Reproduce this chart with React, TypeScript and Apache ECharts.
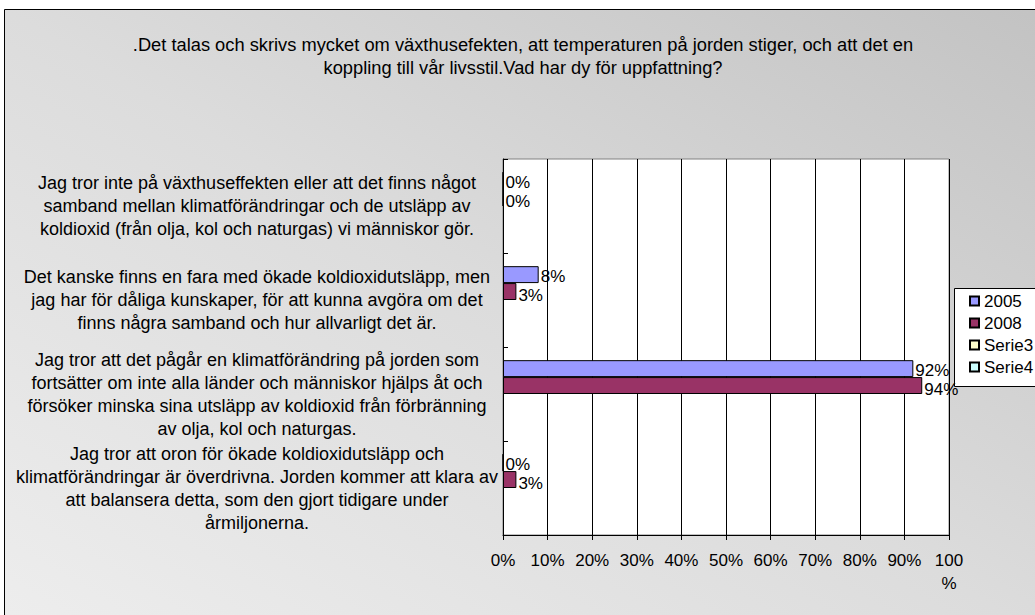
import React, { useEffect, useRef } from "react";
import * as echarts from "echarts";

const titleLines = [
  ".Det talas och skrivs mycket om växthusefekten, att temperaturen på jorden stiger, och att det en",
  "koppling till vår livsstil.Vad har dy för uppfattning?",
];

const categories = [
  "Jag tror inte på växthuseffekten eller att det finns något\nsamband mellan klimatförändringar och de utsläpp av\nkoldioxid (från olja, kol och naturgas) vi människor gör.",
  "Det kanske finns en fara med ökade koldioxidutsläpp, men\njag har för dåliga kunskaper, för att kunna avgöra om det\nfinns några samband och hur allvarligt det är.",
  "Jag tror att det pågår en klimatförändring på jorden som\nfortsätter om inte alla länder och människor hjälps åt och\nförsöker minska sina utsläpp av koldioxid från förbränning\nav olja, kol och naturgas.",
  "Jag tror att oron för ökade koldioxidutsläpp och\nklimatförändringar är överdrivna. Jorden kommer att klara av\natt balansera detta, som den gjort tidigare under\nårmiljonerna.",
];

const seriesNames = ["2005", "2008", "Serie3", "Serie4"];
const values2005 = [0, 8, 92, 0];
const values2008 = [0, 3, 94, 3];
const valuesSerie3 = [null, null, null, null];
const valuesSerie4 = [null, null, null, null];
const seriesColors = ["#9999FF", "#993366", "#FFFFCC", "#CCFFFF"];

const FONT = "'Liberation Sans', Arial, sans-serif";

export default function App() {
  const ref = useRef<HTMLDivElement>(null);
  useEffect(() => {
    if (!ref.current) return;
    const chart = echarts.init(ref.current, undefined, { renderer: "svg" });
    const allValues = [values2005, values2008, valuesSerie3, valuesSerie4];
    const series = seriesNames.map((name, i) => ({
      name,
      type: "bar",
      data: allValues[i],
      barGap: "0%",
      barCategoryGap: "28%",
      itemStyle: { color: seriesColors[i], borderColor: "#000", borderWidth: 1 },
      label: {
        show: i < 2,
        position: "right",
        distance: 2,
        offset: [0, i === 0 ? 2 : 4],
        formatter: "{c}%",
        color: "#000",
        fontSize: 17,
        fontFamily: FONT,
      },
    }));
    chart.setOption({
      animation: false,
      textStyle: { fontFamily: FONT },
      graphic: [
        {
          type: "rect",
          z: -10,
          silent: true,
          shape: { x: 4.5, y: 9.5, width: 1060, height: 640 },
          style: {
            fill: new echarts.graphic.LinearGradient(1, 0, 0, 1, [
              { offset: 0, color: "#c2c2c2" },
              { offset: 0.5, color: "#dcdcdc" },
              { offset: 1, color: "#eeeeee" },
            ]),
            stroke: "#000",
            lineWidth: 1,
          },
        },
        {
          type: "rect",
          z: -5,
          silent: true,
          shape: { x: 954.5, y: 288.5, width: 200, height: 98 },
          style: { fill: "#fff", stroke: "#000", lineWidth: 1 },
        },
        {
          type: "text",
          x: 523,
          y: 55.5,
          z: 10,
          style: {
            text: titleLines.join("\n"),
            textAlign: "center",
            textVerticalAlign: "middle",
            fontSize: 18.3,
            fontFamily: FONT,
            lineHeight: 23,
            fill: "#000",
          },
        },
      ],
      legend: {
        orient: "vertical",
        left: 954,
        top: 288,
        data: seriesNames,
        padding: [3, 5, 10, 15],
        itemGap: 2,
        itemWidth: 9,
        itemHeight: 9,
        icon: "rect",
        textStyle: { fontSize: 17, lineHeight: 20, color: "#000", fontFamily: FONT },
      },
      grid: {
        left: 503,
        top: 159,
        width: 446,
        height: 376,
        show: true,
        backgroundColor: "#fff",
        borderColor: "#808080",
        borderWidth: 1,
        containLabel: false,
      },
      xAxis: {
        type: "value",
        min: 0,
        max: 100,
        interval: 10,
        axisLine: { show: true, lineStyle: { color: "#000" } },
        axisTick: { show: true, inside: false, length: 5, lineStyle: { color: "#000" } },
        splitLine: { show: true, lineStyle: { color: "#000", width: 1 } },
        axisLabel: {
          margin: 14,
          fontSize: 17,
          lineHeight: 23,
          color: "#000",
          fontFamily: FONT,
          formatter: (v: number) => (v === 100 ? "100\n%" : v + "%"),
        },
      },
      yAxis: {
        type: "category",
        inverse: true,
        data: categories,
        axisLine: { show: true, lineStyle: { color: "#000" } },
        axisTick: { show: true, inside: true, length: 5, lineStyle: { color: "#000" } },
        splitLine: { show: false },
        axisLabel: {
          interval: 0,
          align: "center",
          margin: 246,
          fontSize: 18,
          lineHeight: 23,
          color: "#000",
          fontFamily: FONT,
        },
      },
      series,
    });
    return () => chart.dispose();
  }, []);
  return (
    <div
      ref={ref}
      style={{ position: "absolute", left: 0, top: 0, width: 1035, height: 615 }}
    />
  );
}
